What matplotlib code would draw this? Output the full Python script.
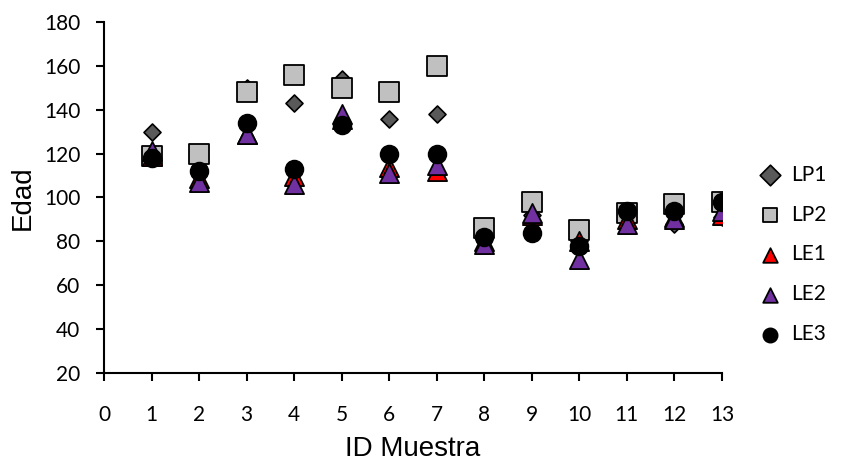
import matplotlib.pyplot as plt

# datos
ids = [1, 2, 3, 4, 5, 6, 7, 8, 9, 10, 11, 12, 13]
lp1 = [130, 111, 150, 143, 154, 136, 138, 82, 92, 80, 90, 88, 91]
lp2 = [119, 120, 148, 156, 150, 148, 160, 86, 98, 85, 93, 97, 98]
le1 = [119, 109, 129, 110, 136, 114, 112, 80, 92, 80, 90, 91, 92]
le2 = [121, 107, 129, 106, 138, 111, 115, 79, 93, 72, 88, 90, 94]
le3 = [118, 112, 134, 113, 133, 120, 120, 82, 84, 78, 94, 94, 98]

tick_font = 'Lato'
label_font = 'Liberation Sans'

fig = plt.figure(figsize=(8.43, 4.61), dpi=100)
ax = fig.add_axes([0.1234, 0.1909, 0.733, 0.7614])

ax.scatter(ids, lp1, marker='D', s=75, color='#595959', edgecolors='black', linewidths=1.2, label='LP1', zorder=3)
ax.scatter(ids, lp2, marker='s', s=190, color='#C0C0C0', edgecolors='black', linewidths=1.3, label='LP2', zorder=4)
ax.scatter(ids, le1, marker='^', s=190, color='#FF0000', edgecolors='black', linewidths=1.3, label='LE1', zorder=5)
ax.scatter(ids, le2, marker='^', s=190, color='#7030A0', edgecolors='black', linewidths=1.3, label='LE2', zorder=6)
ax.scatter(ids, le3, marker='o', s=170, color='black', edgecolors='black', linewidths=1, label='LE3', zorder=7)

ax.set_xlim(0, 13)
ax.set_ylim(20, 180)
ax.set_xticks(range(0, 14))
ax.set_yticks(range(20, 181, 20))
for sp in ['top', 'right']:
    ax.spines[sp].set_visible(False)
for sp in ['left', 'bottom']:
    ax.spines[sp].set_linewidth(1.5)
ax.tick_params(direction='out', length=6, width=1.5, labelsize=15)
ax.tick_params(axis='x', pad=17)
ax.tick_params(axis='y', pad=11)
for lab in ax.get_xticklabels() + ax.get_yticklabels():
    lab.set_family(tick_font)

ax.set_xlabel('ID Muestra', fontsize=20, family=label_font, labelpad=8)
ax.set_ylabel('Edad', fontsize=20, family=label_font, labelpad=6)

leg = fig.legend(loc='center left', bbox_to_anchor=(0.889, 0.448), frameon=False,
                 prop={'family': tick_font, 'size': 15}, handlelength=1.0,
                 handletextpad=0.5, labelspacing=0.95, borderpad=0)
for h in leg.legend_handles:
    h.set_sizes([110])

fig.savefig('out.png', dpi=100)
